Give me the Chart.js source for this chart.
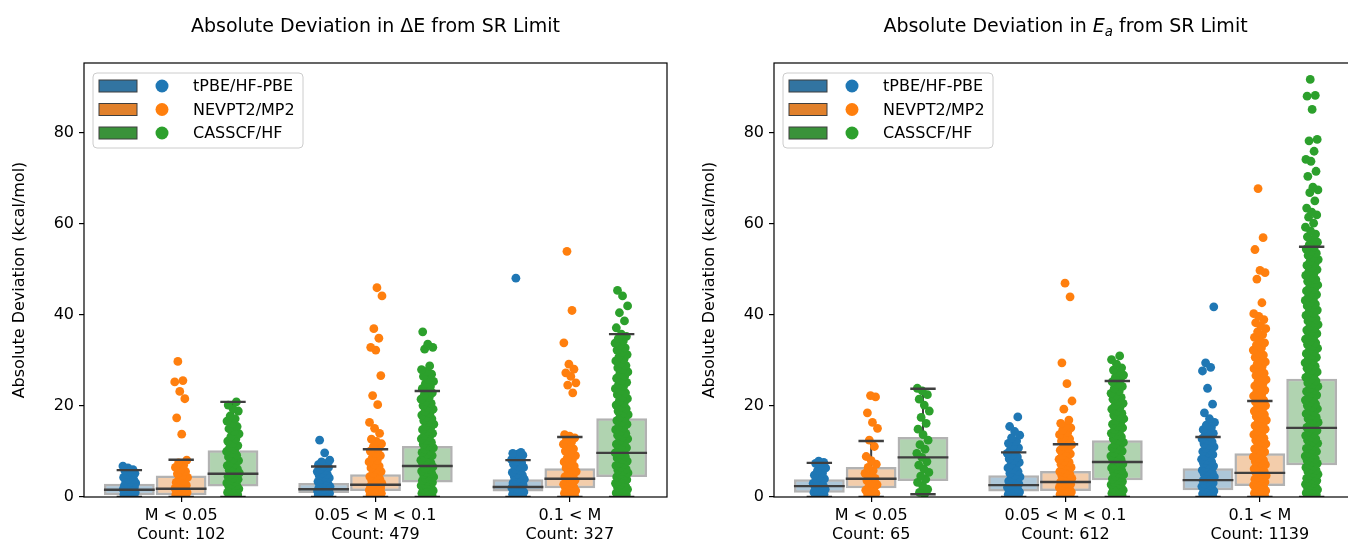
<!DOCTYPE html>
<html>
<head>
<meta charset="utf-8">
<script src="https://cdn.jsdelivr.net/npm/chart.js@4.4.1/dist/chart.umd.min.js"></script>
<style>
  html, body { margin: 0; padding: 0; background: #fff; overflow: hidden; }
  #wrap { position: relative; width: 1348px; height: 542px; overflow: hidden; }
  .panel { position: absolute; top: 0; width: 690px; height: 542px; }
</style>
</head>
<body>
<div id="wrap">
  <div class="panel" style="left:0"><canvas id="chartDE" width="690" height="542"></canvas></div>
  <div class="panel" style="left:690px"><canvas id="chartEa" width="690" height="542"></canvas></div>
</div>
<script>
const categories = ["M < 0.05", "0.05 < M < 0.1", "0.1 < M"];
const methods = ["tPBE/HF-PBE", "NEVPT2/MP2", "CASSCF/HF"];
const countsDE = [102, 479, 327];
const countsEa = [65, 612, 1139];
const yTicks = [0, 20, 40, 60, 80];

// box stats per category: [whisker low, q1, median, q3, whisker high]
const boxDE_tpbe = [[0, 0.4, 1.6, 2.9, 5.9], [0, 0.9, 1.7, 3.1, 6.7], [0, 1.2, 2.2, 3.9, 8.1]];
const boxDE_nev = [[0, 0.4, 1.8, 4.7, 8.2], [0, 1.3, 2.7, 5.0, 10.5], [0, 1.9, 4.0, 6.3, 13.2]];
const boxDE_cas = [[0, 2.3, 5.1, 10.3, 20.9], [0, 3.2, 6.8, 11.2, 23.3], [0, 4.4, 9.7, 17.3, 35.8]];
const boxEa_tpbe = [[0, 0.95, 2.4, 3.9, 7.5], [0, 1.2, 2.6, 4.8, 9.8], [0, 1.5, 3.7, 6.3, 13.2]];
const boxEa_nev = [[0, 1.9, 4.0, 6.6, 12.3], [0, 1.3, 3.3, 5.7, 11.6], [0, 2.4, 5.3, 9.6, 21.1]];
const boxEa_cas = [[0.6, 3.5, 8.7, 13.2, 23.8], [0, 3.7, 7.7, 12.5, 25.5], [0, 7.0, 15.2, 26.0, 55.0]];

// strip points (dense columns estimated)
const ptsDE_tpbe = [
  [0.1,0.2,0.3,0.5,0.6,0.7,0.9,1.0,1.1,1.3,1.4,1.5,1.7,1.8,2.0,2.2,2.3,2.5,2.7,2.9,3.1,3.3,3.6,3.8,4.0,4.3,4.6,4.9,5.2,5.5,5.8,6.0,6.4,6.8],
  [0.1,0.2,0.3,0.4,0.5,0.6,0.7,0.8,0.9,1.0,1.1,1.2,1.3,1.4,1.5,1.6,1.7,1.9,2.0,2.2,2.3,2.5,2.7,2.9,3.1,3.4,3.6,3.9,4.2,4.4,4.7,5.0,5.3,5.6,5.9,6.2,6.5,6.8,7.1,7.4,7.7,8.1,9.7,12.5],
  [0.1,0.2,0.3,0.5,0.6,0.8,0.9,1.1,1.2,1.4,1.6,1.8,2.0,2.2,2.4,2.6,2.9,3.1,3.4,3.6,3.9,4.2,4.5,4.8,5.1,5.4,5.8,6.1,6.5,6.8,7.2,7.5,7.9,8.2,8.6,8.9,9.2,9.4,9.6,9.8,48.1]
];
const ptsDE_nev = [
  [0.1,0.2,0.3,0.4,0.5,0.7,0.8,1.0,1.1,1.3,1.5,1.7,1.9,2.1,2.3,2.6,2.9,3.2,3.5,3.9,4.3,4.7,5.1,5.6,6.0,6.5,7.0,7.5,8.1,13.8,17.4,21.6,23.2,25.3,25.6,29.8],
  [0.1,0.2,0.3,0.4,0.5,0.6,0.7,0.8,0.9,1.0,1.2,1.3,1.5,1.6,1.8,2.0,2.2,2.4,2.6,2.8,3.0,3.3,3.6,3.9,4.2,4.5,4.8,5.2,5.6,6.0,6.4,6.8,7.2,7.7,8.1,8.6,9.1,9.6,10.1,10.6,11.1,11.7,12.2,12.7,14.0,15.1,16.4,20.3,22.3,26.7,32.3,32.9,34.9,37.0,44.2,46.0],
  [0.1,0.3,0.4,0.6,0.8,1.0,1.2,1.4,1.7,1.9,2.2,2.5,2.8,3.1,3.4,3.7,4.0,4.4,4.8,5.2,5.6,6.0,6.4,6.8,7.2,7.7,8.1,8.6,9.1,9.6,10.1,10.6,11.1,11.6,12.1,12.6,13.0,13.4,13.7,22.9,24.6,25.1,26.5,27.3,28.1,29.2,33.9,41.0,54.0]
];
const ptsDE_cas = [
  [0.1,0.3,0.5,0.8,1.0,1.3,1.5,1.8,2.0,2.3,2.5,2.8,3.1,3.3,3.6,3.9,4.2,4.5,4.8,5.0,5.3,5.6,5.9,6.2,6.6,6.9,7.3,7.6,8.0,8.4,8.8,9.2,9.6,10.0,10.4,10.9,11.3,11.8,12.3,12.8,13.3,13.9,14.4,15.0,15.5,16.1,16.7,17.2,17.8,18.9,19.3,20.2,20.9],
  [0.1,0.2,0.4,0.6,0.8,1.0,1.2,1.4,1.6,1.8,2.0,2.2,2.5,2.7,2.9,3.2,3.4,3.6,3.9,4.1,4.4,4.6,4.9,5.2,5.4,5.7,6.0,6.3,6.6,6.9,7.2,7.5,7.8,8.1,8.4,8.8,9.1,9.4,9.8,10.1,10.5,10.8,11.2,11.6,12.0,12.4,12.8,13.2,13.6,14.0,14.4,14.8,15.2,15.6,16.0,16.4,16.8,17.2,17.6,18.0,18.4,18.8,19.3,19.7,20.1,20.6,21.0,21.5,21.9,22.4,22.9,23.4,23.8,24.3,24.9,25.4,25.9,26.5,27.0,27.6,28.0,28.8,32.5,32.9,33.6,36.3],
  [0.1,0.3,0.5,0.7,0.9,1.2,1.4,1.7,1.9,2.2,2.4,2.7,3.0,3.2,3.5,3.8,4.1,4.4,4.7,5.0,5.3,5.6,5.9,6.2,6.5,6.9,7.2,7.5,7.9,8.2,8.6,8.9,9.3,9.7,10.0,10.4,10.8,11.2,11.6,12.0,12.4,12.8,13.2,13.6,14.0,14.4,14.8,15.2,15.6,16.0,16.4,16.8,17.2,17.6,18.1,18.5,18.9,19.4,19.8,20.2,20.7,21.1,21.6,22.0,22.5,22.9,23.4,23.8,24.3,24.7,25.2,25.6,26.1,26.6,27.0,27.5,28.0,28.4,28.9,29.4,29.9,30.3,30.8,31.3,31.8,32.3,32.8,33.3,33.8,34.3,34.8,35.3,35.8,37.2,38.7,40.5,42.0,44.2,45.4]
];
const ptsEa_tpbe = [
  [0.2,0.4,0.6,0.8,1.0,1.2,1.5,1.7,2.0,2.2,2.5,2.7,3.0,3.3,3.6,4.0,4.4,4.8,5.3,5.8,6.4,7.0,7.4,7.6,7.9],
  [0.1,0.2,0.3,0.5,0.6,0.8,0.9,1.1,1.3,1.5,1.7,1.9,2.1,2.3,2.6,2.9,3.2,3.5,3.8,4.1,4.4,4.8,5.2,5.6,6.0,6.4,6.8,7.2,7.6,8.0,8.4,8.8,9.2,9.6,10.0,10.4,10.8,11.3,11.8,12.3,13.0,13.6,14.4,15.5,17.6],
  [0.1,0.2,0.4,0.5,0.7,0.9,1.1,1.3,1.5,1.7,1.9,2.1,2.3,2.6,2.8,3.1,3.3,3.6,3.8,4.1,4.4,4.7,5.0,5.3,5.6,5.9,6.2,6.5,6.8,7.1,7.4,7.7,8.0,8.3,8.7,9.0,9.3,9.7,10.0,10.3,10.7,11.0,11.4,11.7,12.1,12.4,12.8,13.2,13.6,14.0,14.4,14.8,15.3,15.8,16.4,17.2,18.5,20.4,23.9,27.7,28.5,29.5,41.8]
];
const ptsEa_nev = [
  [0.2,0.5,0.8,1.1,1.5,1.9,2.3,2.7,3.1,3.6,4.1,4.6,5.2,5.8,6.5,7.2,8.0,8.9,11.1,12.5,15.1,16.4,18.5,22.0,22.3],
  [0.1,0.2,0.3,0.5,0.6,0.8,0.9,1.1,1.3,1.5,1.7,1.9,2.1,2.3,2.5,2.8,3.0,3.3,3.5,3.8,4.1,4.4,4.7,5.0,5.3,5.6,5.9,6.2,6.5,6.9,7.2,7.6,7.9,8.3,8.7,9.1,9.5,9.9,10.3,10.7,11.1,11.5,11.9,12.3,12.8,13.2,13.7,14.2,14.7,15.2,15.7,16.2,16.9,19.3,21.1,24.9,29.5,44.0,47.0],
  [0.1,0.2,0.4,0.6,0.8,1.0,1.2,1.4,1.6,1.9,2.1,2.3,2.6,2.8,3.1,3.3,3.6,3.9,4.1,4.4,4.7,5.0,5.3,5.6,5.9,6.2,6.5,6.8,7.1,7.5,7.8,8.1,8.5,8.8,9.2,9.5,9.9,10.2,10.6,11.0,11.3,11.7,12.1,12.5,12.9,13.3,13.7,14.1,14.5,14.9,15.3,15.7,16.1,16.5,16.9,17.3,17.7,18.1,18.5,18.9,19.3,19.7,20.1,20.5,20.9,21.3,21.8,22.2,22.6,23.1,23.5,24.0,24.4,24.9,25.3,25.8,26.3,26.7,27.2,27.7,28.2,28.7,29.2,29.7,30.2,30.7,31.2,31.7,32.3,32.8,33.4,33.9,34.5,35.1,35.7,36.3,37.0,37.6,38.3,39.0,39.7,40.3,42.7,47.9,49.3,49.8,54.4,57.0,67.8]
];
const ptsEa_cas = [
  [0.6,1.0,1.7,2.5,3.2,3.9,4.6,5.4,6.2,7.0,7.8,8.7,9.6,10.5,11.5,12.5,13.7,14.9,16.2,17.5,18.9,20.2,21.5,22.5,23.3,23.9],
  [0.1,0.2,0.4,0.6,0.8,1.0,1.2,1.5,1.7,1.9,2.2,2.4,2.7,2.9,3.2,3.4,3.7,4.0,4.3,4.6,4.9,5.2,5.5,5.8,6.1,6.4,6.7,7.0,7.3,7.7,8.0,8.3,8.7,9.0,9.4,9.7,10.1,10.5,10.8,11.2,11.6,12.0,12.4,12.8,13.2,13.6,14.0,14.4,14.8,15.2,15.6,16.0,16.4,16.8,17.2,17.6,18.0,18.4,18.8,19.3,19.7,20.1,20.6,21.0,21.5,21.9,22.4,22.8,23.3,23.8,24.3,24.8,25.3,25.8,26.3,26.8,27.4,27.9,28.4,29.2,30.2,31.0],
  [0.1,0.3,0.5,0.7,0.9,1.1,1.4,1.6,1.8,2.1,2.3,2.6,2.8,3.1,3.3,3.6,3.9,4.1,4.4,4.7,5.0,5.3,5.6,5.9,6.2,6.5,6.8,7.1,7.4,7.7,8.0,8.4,8.7,9.0,9.4,9.7,10.0,10.4,10.7,11.1,11.4,11.8,12.1,12.5,12.8,13.2,13.5,13.9,14.3,14.6,15.0,15.3,15.7,16.1,16.4,16.8,17.2,17.5,17.9,18.3,18.6,19.0,19.4,19.8,20.1,20.5,20.9,21.3,21.6,22.0,22.4,22.8,23.2,23.5,23.9,24.3,24.7,25.1,25.5,25.9,26.3,26.7,27.1,27.5,27.9,28.3,28.7,29.1,29.5,29.9,30.3,30.7,31.1,31.5,31.9,32.3,32.7,33.1,33.5,33.9,34.3,34.7,35.1,35.5,35.9,36.3,36.7,37.1,37.5,37.9,38.3,38.7,39.1,39.5,39.9,40.3,40.7,41.1,41.6,42.0,42.4,42.8,43.2,43.6,44.0,44.5,44.9,45.3,45.7,46.1,46.6,47.0,47.4,47.8,48.3,48.7,49.1,49.6,50.0,50.4,50.9,51.3,51.8,52.2,52.7,53.1,53.6,54.0,54.5,55.0,55.5,56.0,56.6,57.2,57.8,58.5,59.3,60.2,61.5,62.0,62.6,63.5,65.1,66.9,67.5,68.1,70.5,71.6,73.8,74.2,76.0,78.3,78.6,85.2,88.1,88.3,91.8]
];

const titleDE = [{ text: "Absolute Deviation in ΔE from SR Limit" }];
const titleEa = [
  { text: "Absolute Deviation in " },
  { text: "E", italic: true },
  { text: "a", italic: true, sub: true },
  { text: " from SR Limit" }
];

// styles
const FONT = "'DejaVu Sans', sans-serif";
const pointColors = ["#1f77b4", "#ff7f0e", "#2ca02c"];
const patchColors = ["#3274a1", "#e1812c", "#3a923a"];
const boxFaces = ["rgba(50,116,161,0.4)", "rgba(225,129,44,0.4)", "rgba(58,146,58,0.4)"];
const lineGrey = "#3f3f3f";
const hueWidth = 0.8 / 3;
const boxHalf = hueWidth * 0.98 / 2;
const capHalf = boxHalf / 2;
const jitterHalf = 0.034;

Chart.defaults.font.family = FONT;
Chart.defaults.color = "#000";

// deterministic spread for strip points
const jitter = (i) => (((i + 1) * 0.618034) % 1) * 2 - 1;

function buildDatasets(boxSets, pointSets) {
  const ds = [];
  boxSets.forEach((stats, h) => {
    const pos = (c) => c + (h - 1) * hueWidth;
    ds.push({
      type: "bar",
      order: 5,
      data: stats.map((s, c) => ({ x: pos(c), y: [s[1], s[3]] })),
      backgroundColor: boxFaces[h],
      borderColor: "rgba(63,63,63,0.4)",
      borderWidth: 2.5,
      borderSkipped: false,
      grouped: false,
      barPercentage: 0.98,
      categoryPercentage: 1
    });

    const whiskers = [];
    const marks = [];
    stats.forEach((s, c) => {
      const x = pos(c);
      whiskers.push({ x, y: s[3] }, { x, y: s[4] }, { x, y: null },
                    { x, y: s[0] }, { x, y: s[1] }, { x, y: null });
      marks.push({ x: x - boxHalf, y: s[2] }, { x: x + boxHalf, y: s[2] }, { x, y: null },
                 { x: x - capHalf, y: s[4] }, { x: x + capHalf, y: s[4] }, { x, y: null },
                 { x: x - capHalf, y: s[0] }, { x: x + capHalf, y: s[0] }, { x, y: null });
    });
    ds.push({
      type: "line", order: 4, data: whiskers,
      borderColor: lineGrey, borderWidth: 2, pointRadius: 0, spanGaps: false, fill: false
    });

    const pts = [];
    pointSets[h].forEach((vals, c) => {
      vals.forEach((v, i) => pts.push({ x: pos(c) + jitter(i) * jitterHalf, y: v }));
    });
    ds.push({
      type: "scatter", order: 3, data: pts,
      backgroundColor: pointColors[h], borderWidth: 0,
      pointRadius: 4.4, pointHoverRadius: 4.4, clip: 0
    });

    ds.push({
      type: "line", order: 1, data: marks,
      borderColor: lineGrey, borderWidth: 2.4, pointRadius: 0, spanGaps: false, fill: false
    });
  });
  return ds;
}

const decor = {
  id: "decor",
  afterDraw(chart, args, opts) {
    const { ctx, chartArea: a } = chart;
    ctx.save();

    // spines
    ctx.strokeStyle = "#000";
    ctx.lineWidth = 1.2;
    ctx.strokeRect(a.left, a.top, a.right - a.left, a.bottom - a.top);

    // title
    const size = 19;
    const parts = opts.title.map((p) => {
      const s = p.sub ? size * 0.7 : size;
      const font = (p.italic ? "italic " : "") + s + "px " + FONT;
      ctx.font = font;
      return { ...p, font, w: ctx.measureText(p.text).width };
    });
    const total = parts.reduce((t, p) => t + p.w, 0);
    let x = (a.left + a.right) / 2 - total / 2;
    ctx.fillStyle = "#000";
    ctx.textBaseline = "alphabetic";
    ctx.textAlign = "left";
    parts.forEach((p) => {
      ctx.font = p.font;
      ctx.fillText(p.text, x, 32 + (p.sub ? 4 : 0));
      x += p.w;
    });

    // legend
    const lx = a.left + 9, ly = a.top + 10, lw = 210, lh = 75;
    ctx.beginPath();
    ctx.roundRect(lx, ly, lw, lh, 4);
    ctx.fillStyle = "rgba(255,255,255,0.8)";
    ctx.fill();
    ctx.strokeStyle = "#cccccc";
    ctx.lineWidth = 1;
    ctx.stroke();
    ctx.font = "16px " + FONT;
    ctx.textBaseline = "middle";
    methods.forEach((m, h) => {
      const cy = ly + 13 + h * 23.5;
      ctx.fillStyle = patchColors[h];
      ctx.fillRect(lx + 6, cy - 6, 38, 12);
      ctx.strokeStyle = lineGrey;
      ctx.strokeRect(lx + 6, cy - 6, 38, 12);
      ctx.beginPath();
      ctx.arc(lx + 69, cy, 6.5, 0, Math.PI * 2);
      ctx.fillStyle = pointColors[h];
      ctx.fill();
      ctx.fillStyle = "#000";
      ctx.fillText(m, lx + 100, cy + 1);
    });
    ctx.restore();
  }
};

const axisGrid = { offset: false, drawOnChartArea: false, drawTicks: true, tickLength: 5, color: "#000", lineWidth: 1.2 };

function makeChart(id, boxSets, pointSets, counts, title) {
  const ctx = document.getElementById(id).getContext("2d");
  return new Chart(ctx, {
    type: "scatter",
    data: { datasets: buildDatasets(boxSets, pointSets) },
    plugins: [decor],
    options: {
      responsive: false,
      animation: false,
      devicePixelRatio: 1,
      layout: { padding: { top: 63, right: 23, left: 0, bottom: 0 } },
      plugins: {
        legend: { display: false },
        tooltip: { enabled: false },
        title: { display: false },
        decor: { title: title }
      },
      scales: {
        x: {
          type: "linear",
          min: -0.5,
          max: 2.5,
          offset: false,
          afterBuildTicks: (scale) => { scale.ticks = [0, 1, 2].map((v) => ({ value: v })); },
          afterFit: (scale) => { scale.height = 45; },
          ticks: {
            font: { size: 16, lineHeight: 1.15 },
            color: "#000",
            padding: 5,
            maxRotation: 0,
            callback: (v) => [categories[v], "Count: " + counts[v]]
          },
          grid: axisGrid,
          border: { display: false }
        },
        y: {
          type: "linear",
          min: 0,
          max: 95.4,
          afterBuildTicks: (scale) => { scale.ticks = yTicks.map((v) => ({ value: v })); },
          afterFit: (scale) => { scale.width = 84; },
          ticks: { font: { size: 16 }, color: "#000", padding: 5 },
          title: {
            display: true,
            text: "Absolute Deviation (kcal/mol)",
            font: { size: 16 },
            color: "#000",
            padding: { top: 10, bottom: 0 }
          },
          grid: axisGrid,
          border: { display: false }
        }
      }
    }
  });
}

makeChart("chartDE", [boxDE_tpbe, boxDE_nev, boxDE_cas], [ptsDE_tpbe, ptsDE_nev, ptsDE_cas], countsDE, titleDE);
makeChart("chartEa", [boxEa_tpbe, boxEa_nev, boxEa_cas], [ptsEa_tpbe, ptsEa_nev, ptsEa_cas], countsEa, titleEa);
</script>
</body>
</html>
